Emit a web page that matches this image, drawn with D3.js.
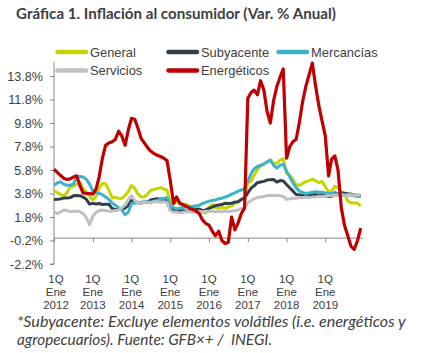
<!DOCTYPE html>
<html>
<head>
<meta charset="utf-8">
<script src="https://cdn.jsdelivr.net/npm/d3@7"></script>
<style>
  body { margin: 0; background: #fff; }
  svg { display: block; }
</style>
</head>
<body>
<svg id="chart"></svg>
<script>
const width = 429
const height = 353

// monthly, Jan 2012 .. Dec 2019
const general = [
  4.05, 3.87, 3.73, 3.6, 3.85, 4.34, 4.42, 4.57, 4.77, 4.2, 3.9, 3.57,
  3.25, 3.55, 4.25, 4.65, 4.63, 4.09, 3.47, 3.46, 3.39, 3.36, 3.62, 3.97,
  4.48, 4.23, 3.76, 3.50, 3.51, 3.75, 4.07, 4.15, 4.22, 4.30, 4.17, 4.08,
  3.07, 3.00, 3.14, 3.06, 2.88, 2.87, 2.74, 2.59, 2.52, 2.48, 2.21, 2.13,
  2.61, 2.87, 2.60, 2.54, 2.60, 2.54, 2.65, 2.73, 2.97, 3.06, 3.31, 3.36,
  4.72, 4.86, 5.35, 5.82, 6.16, 6.31, 6.44, 6.66, 6.35, 6.37, 6.63, 6.77,
  5.55, 5.34, 5.04, 4.55, 4.51, 4.65, 4.81, 4.90, 5.02, 4.90, 4.72, 4.83,
  4.37, 3.94, 4.00, 4.41, 4.28, 3.95, 3.78, 3.16, 3.00, 3.02, 2.97, 2.72
]
const subyacente = [
  3.29, 3.31, 3.34, 3.41, 3.41, 3.45, 3.60, 3.63, 3.61, 3.50, 3.30, 2.90,
  2.96, 2.90, 2.95, 2.86, 2.88, 2.89, 2.53, 2.43, 2.52, 2.48, 2.56, 2.78,
  3.21, 3.11, 3.03, 3.00, 3.04, 3.08, 3.25, 3.31, 3.36, 3.32, 3.30, 3.24,
  2.41, 2.42, 2.43, 2.31, 2.33, 2.30, 2.31, 2.33, 2.43, 2.47, 2.34, 2.41,
  2.54, 2.64, 2.76, 2.82, 2.86, 2.97, 2.94, 2.97, 3.07, 3.10, 3.29, 3.44,
  3.84, 4.26, 4.45, 4.72, 4.78, 4.83, 4.94, 4.98, 5.00, 4.77, 4.90, 4.87,
  4.56, 4.27, 4.02, 3.71, 3.69, 3.62, 3.63, 3.63, 3.67, 3.73, 3.63, 3.68,
  3.60, 3.54, 3.55, 3.87, 3.77, 3.85, 3.82, 3.78, 3.75, 3.68, 3.65, 3.59
]
const mercancias = [
  4.5, 4.7, 4.8, 4.6, 4.5, 4.5, 4.6, 5.2, 5.25, 5.2, 5.0, 4.6,
  4.0, 3.9, 3.8, 3.7, 3.5, 3.3, 3.0, 2.8, 2.6, 2.4, 2.0, 2.2,
  2.95, 3.0, 3.0, 3.05, 3.1, 3.1, 3.0, 3.15, 3.2, 3.35, 3.4, 3.45,
  2.8, 2.6, 2.5, 2.55, 2.6, 2.65, 2.7, 2.7, 2.75, 2.8, 2.95, 3.05,
  3.15, 3.2, 3.25, 3.35, 3.4, 3.5, 3.6, 3.75, 3.85, 4.0, 4.1, 4.2,
  4.9, 5.5, 5.9, 6.1, 6.2, 6.3, 6.5, 6.65, 6.2, 5.95, 6.2, 6.3,
  5.7, 5.2, 4.7, 4.3, 4.0, 3.9, 3.8, 3.85, 3.9, 3.95, 3.9, 3.9,
  3.85, 3.8, 3.8, 3.75, 3.8, 3.75, 3.7, 3.7, 3.65, 3.6, 3.55, 3.55
]
const servicios = [
  2.25, 2.1, 2.2, 2.4, 2.35, 2.25, 2.3, 2.3, 2.25, 2.1, 1.75, 1.15,
  1.85, 2.2, 2.35, 2.4, 2.35, 2.3, 2.3, 2.35, 2.4, 2.6, 2.8, 3.3,
  3.6, 3.2, 3.0, 3.0, 3.05, 3.0, 3.05, 3.1, 3.1, 3.05, 3.1, 3.0,
  2.35, 2.2, 2.2, 2.15, 2.2, 2.25, 2.25, 2.2, 2.25, 2.3, 2.25, 2.3,
  2.3, 2.3, 2.25, 2.3, 2.25, 2.3, 2.25, 2.3, 2.35, 2.4, 2.5, 2.6,
  3.0, 3.2, 3.35, 3.45, 3.5, 3.55, 3.6, 3.65, 3.6, 3.65, 3.6, 3.55,
  3.3, 3.35, 3.4, 3.4, 3.45, 3.45, 3.5, 3.45, 3.5, 3.5, 3.55, 3.55,
  3.55, 3.6, 3.6, 3.65, 3.6, 3.65, 3.6, 3.65, 3.7, 3.65, 3.7, 3.7
]
const energeticos = [
  5.86, 5.6, 5.35, 5.1, 5.0, 5.05, 5.2, 5.3, 4.5, 3.85, 3.8, 3.8,
  3.75, 4.2, 5.2, 6.8, 7.9, 8.1, 8.2, 8.4, 9.1, 8.7, 7.9, 9.2,
  10.2, 10.1, 9.4, 8.5, 8.1, 7.7, 7.4, 7.2, 7.05, 6.95, 6.8, 6.6,
  4.9, 2.95, 3.5, 2.95, 2.85, 2.7, 2.55, 2.45, 2.3, 2.1, 1.55, 1.25,
  1.1, 0.6, 0.2, 0.6, -0.2, -0.45, -0.35, 1.8, 0.7, 1.3, 2.1, 2.55,
  11.9, 12.4, 12.6, 12.2, 13.4, 12.6, 10.8, 9.8, 11.7, 12.9, 13.7, 14.4,
  6.8, 7.8, 8.2, 8.4, 9.8, 11.6, 12.9, 13.9, 14.9, 13.0, 11.3, 10.0,
  8.7, 5.3, 6.7, 7.0, 5.8, 2.6, 1.1, 0.2, -0.7, -0.95, -0.2, 0.85
]

const seriesNames = ['General', 'Subyacente', 'Mercancías', 'Servicios', 'Energéticos']
const seriesColors = ['#c5d500', '#333f48', '#3bb4ca', '#c0c0c0', '#c00000']
const seriesValues = [general, subyacente, mercancias, servicios, energeticos]

const yTicks = [-2.2, -0.2, 1.8, 3.8, 5.8, 7.8, 9.8, 11.8, 13.8]
const years = [2012, 2013, 2014, 2015, 2016, 2017, 2018, 2019]

const months = d3.timeMonth.range(new Date(2012, 0, 1), new Date(2020, 0, 1))

const x = d3.scaleTime()
  .domain([new Date(2012, 0, 1), new Date(2020, 0, 1)])
  .range([54, 364])

const y = d3.scaleLinear()
  .domain([-2.2, 15])
  .range([264, 61.9])

const svg = d3.select('#chart')
  .attr('width', width)
  .attr('height', height)

const textColor = '#404040'
const axisColor = '#868686'

// squeeze/stretch a text to the width it has in the picture
function fitWidth(sel, w) {
  const node = sel.node()
  const fs = +sel.attr('font-size')
  const len = node.getComputedTextLength()
  sel.attr('font-size', (fs * w / len).toFixed(2))
}

// title
const title = svg.append('text')
  .attr('x', 16)
  .attr('y', 19)
  .attr('font-family', 'Lato, sans-serif')
  .attr('font-weight', 'bold')
  .attr('font-size', 14)
  .attr('fill', textColor)
  .text('Gráfica 1. Inflación al consumidor (Var. % Anual)')
fitWidth(title, 320)

// y axis
const yAxis = svg.append('g')
  .attr('transform', 'translate(54,0)')
  .call(d3.axisLeft(y).tickValues(yTicks).tickSize(4).tickPadding(7)
    .tickFormat(d => d.toFixed(1) + '%'))
yAxis.select('.domain').attr('stroke', axisColor).attr('d', `M-4,${y(-2.2)}H0V${y(15)}`)
yAxis.selectAll('.tick line').attr('stroke', axisColor)
yAxis.selectAll('.tick text')
  .attr('font-family', '"Liberation Sans", Arial, sans-serif')
  .attr('font-size', 12.6)
  .attr('fill', textColor)

// x axis at zero
const xAxis = svg.append('g')
  .attr('transform', `translate(0,${y(0)})`)
  .call(d3.axisBottom(x)
    .tickValues(years.map(yr => new Date(yr, 0, 1)))
    .tickSize(4)
    .tickFormat(''))
xAxis.select('.domain').attr('stroke', axisColor).attr('d', `M${x.range()[0]},0H${x.range()[1] - 1}`)
xAxis.selectAll('.tick line').attr('stroke', axisColor)

// x labels, three lines each
const xLabelRows = ['1Q', 'Ene', null]
const xl = svg.append('g')
  .attr('font-family', '"Liberation Sans", Arial, sans-serif')
  .attr('font-size', 11.5)
  .attr('fill', textColor)
  .attr('text-anchor', 'middle')
xLabelRows.forEach((row, i) => {
  xl.selectAll('text.r' + i)
    .data(years)
    .join('text')
    .attr('class', 'r' + i)
    .attr('x', yr => x(new Date(yr, 0, 1)) + (yr === 2012 ? 2 : 0))
    .attr('y', 282.5 + i * 13.1)
    .text(yr => row || String(yr))
})

// lines
const line = d3.line()
  .x((d, i) => x(months[i]))
  .y(d => y(d))

svg.append('g')
  .selectAll('path')
  .data(seriesValues)
  .join('path')
  .attr('d', d => line(d))
  .attr('fill', 'none')
  .attr('stroke', (d, i) => seriesColors[i])
  .attr('stroke-width', (d, i) => i === 4 ? 3.2 : 3)
  .attr('stroke-linejoin', 'round')

// legend
const legendPos = [[56, 52], [167, 52], [277, 52], [56, 70.5], [167, 70.5]]
const lg = svg.append('g')
  .selectAll('g')
  .data(seriesNames)
  .join('g')
  .attr('transform', (d, i) => `translate(${legendPos[i][0]},${legendPos[i][1]})`)
lg.append('line')
  .attr('x1', 1.5).attr('x2', 30)
  .attr('y1', 0).attr('y2', 0)
  .attr('stroke', (d, i) => seriesColors[i])
  .attr('stroke-width', 4.5)
  .attr('stroke-linecap', 'round')
lg.append('text')
  .attr('x', 34)
  .attr('y', 4.6)
  .attr('font-family', '"Liberation Sans", Arial, sans-serif')
  .attr('font-size', 12.9)
  .attr('fill', textColor)
  .text(d => d)

// footnote
const foot = ['*Subyacente: Excluye elementos volátiles (i.e. energéticos y',
  'agropecuarios). Fuente: GFB×+ /  INEGI.']
const footWidths = [389, 255]
svg.append('g')
  .selectAll('text')
  .data(foot)
  .join('text')
  .attr('x', 17)
  .attr('y', (d, i) => 327 + i * 17.5)
  .attr('font-family', 'Lato, sans-serif')
  .attr('font-style', 'italic')
  .attr('font-size', 14)
  .attr('fill', textColor)
  .style('white-space', 'pre')
  .text(d => d)
  .each(function (d, i) { fitWidth(d3.select(this), footWidths[i]) })
</script>
</body>
</html>
